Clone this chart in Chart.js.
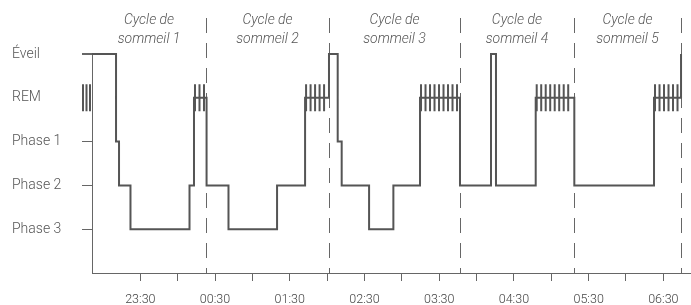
<!DOCTYPE html>
<html lang="fr">
<head>
<meta charset="UTF-8" />
<title>Hypnogramme – cycles de sommeil</title>
<style>
  html,body{margin:0;padding:0;background:#fff;}
  #wrap{width:691px;height:305px;}
</style>
<script src="https://cdn.jsdelivr.net/npm/chart.js@4.4.0/dist/chart.umd.min.js"></script>
</head>
<body>
<div id="wrap"><canvas id="hypno" width="691" height="305"></canvas></div>
<script>
// ===== data (times in minutes after 22:00) =====
const stageNames = ['', 'Phase 3', 'Phase 2', 'Phase 1', 'REM', 'Éveil'];
const stageTimes = [51.2, 70.5, 72.9, 82.1, 129.5, 133.1, 143.2, 160.8, 199.8, 222.3, 241.5, 248.5,
                    251.7, 273.7, 293.2, 314.6, 346.7, 371.6, 375.6, 407.5, 438.5, 502.5, 524.2];
const stageLevels = [5, 3, 2, 1, 2, 4, 2, 1, 2, 4, 5, 3,
                     2, 1, 2, 4, 2, 5, 2, 4, 2, 4, 5];
const tickTimes = [90, 120, 150, 180, 210, 240, 270, 300, 330, 360, 390, 420, 450, 480, 510];
const cycleEnds = [142.8, 241.5, 346.7, 438.2, 524.2];
const cycleLabels = [
  ['Cycle de', 'sommeil 1'],
  ['Cycle de', 'sommeil 2'],
  ['Cycle de', 'sommeil 3'],
  ['Cycle de', 'sommeil 4'],
  ['Cycle de', 'sommeil 5']
];
const xMin = 51.2, xMax = 532.2;

const REM = 4;
const lineGrey = '#555';
const axisGrey = '#666';
const labelFont = {family:'Roboto, "Liberation Sans", sans-serif', weight:'300', size:14};

const clock = m => {
  const t = (22 * 60 + m) % 1440;
  return String(Math.floor(t / 60)).padStart(2, '0') + ':' + String(t % 60).padStart(2, '0');
};

// hatching on REM, dashed cycle bounds, cycle titles
const decor = {
  id: 'decor',
  beforeDatasetsDraw(chart) {
    const {ctx, chartArea, scales: {x, y}} = chart;
    const yc = y.getPixelForValue(REM);
    ctx.save();
    ctx.strokeStyle = lineGrey;
    ctx.lineWidth = 2;
    ctx.beginPath();
    for (let i = 0; i < stageLevels.length - 1; i++) {
      if (stageLevels[i] !== REM) continue;
      const x0 = x.getPixelForValue(stageTimes[i]);
      const x1 = x.getPixelForValue(stageTimes[i + 1]);
      for (let px = x0 + 1; px < x1 - 2; px += 4.5) {
        ctx.moveTo(px, yc - 13.5);
        ctx.lineTo(px, yc + 13.5);
      }
    }
    // REM marker beside the axis
    [9, 5.5, 2].forEach(d => {
      ctx.moveTo(chartArea.left - d, yc - 13.5);
      ctx.lineTo(chartArea.left - d, yc + 13.5);
    });
    ctx.stroke();

    ctx.strokeStyle = axisGrey;
    ctx.lineWidth = 1;
    ctx.setLineDash([15, 10]);
    cycleEnds.forEach(t => {
      const px = Math.round(x.getPixelForValue(t)) + 0.5;
      ctx.beginPath();
      ctx.moveTo(px, 18);
      ctx.lineTo(px, chartArea.bottom);
      ctx.stroke();
    });
    ctx.setLineDash([]);

    ctx.font = 'italic 300 14px Roboto, "Liberation Sans", sans-serif';
    ctx.fillStyle = lineGrey;
    ctx.textAlign = 'center';
    let prev = xMin;
    cycleEnds.forEach((t, i) => {
      const cx = x.getPixelForValue((prev + t) / 2);
      ctx.fillText(cycleLabels[i][0], cx, 24);
      ctx.fillText(cycleLabels[i][1], cx, 43);
      prev = t;
    });
    ctx.restore();
  }
};

new Chart(document.getElementById('hypno'), {
  type: 'line',
  data: {
    datasets: [{
      data: stageTimes.map((t, i) => ({x: t, y: stageLevels[i]})),
      stepped: 'before',
      borderColor: lineGrey,
      borderWidth: 2,
      pointRadius: 0,
      fill: false,
      clip: 6
    }]
  },
  options: {
    responsive: false,
    devicePixelRatio: 1,
    animation: false,
    layout: {padding: {left: 12, top: 54, right: 0, bottom: 0}},
    plugins: {legend: {display: false}, tooltip: {enabled: false}},
    scales: {
      x: {
        type: 'linear',
        min: xMin,
        max: xMax,
        afterBuildTicks: s => { s.ticks = tickTimes.map(v => ({value: v})); },
        afterFit: s => { s.height = 32; },
        ticks: {
          autoSkip: false,
          maxRotation: 0,
          padding: 11,
          color: '#444',
          font: {family: labelFont.family, weight: '300', size: 12.5},
          callback: v => ((22 * 60 + v) % 60 === 30 ? clock(v) : '')
        },
        grid: {drawOnChartArea: false, tickLength: 8, color: axisGrey},
        border: {color: axisGrey}
      },
      y: {
        type: 'linear',
        min: 0,
        max: 5,
        afterFit: s => { s.width = 80; },
        ticks: {
          stepSize: 1,
          crossAlign: 'far',
          color: '#555',
          font: labelFont,
          callback: v => stageNames[v]
        },
        grid: {
          drawOnChartArea: false,
          tickLength: 10,
          color: c => (c.tick && (c.tick.value === 0 || c.tick.value === REM) ? 'rgba(0,0,0,0)' : axisGrey),
          lineWidth: c => (c.tick && c.tick.value === 5 ? 2 : 1)
        },
        border: {color: axisGrey}
      }
    }
  },
  plugins: [decor]
});
</script>
</body>
</html>
